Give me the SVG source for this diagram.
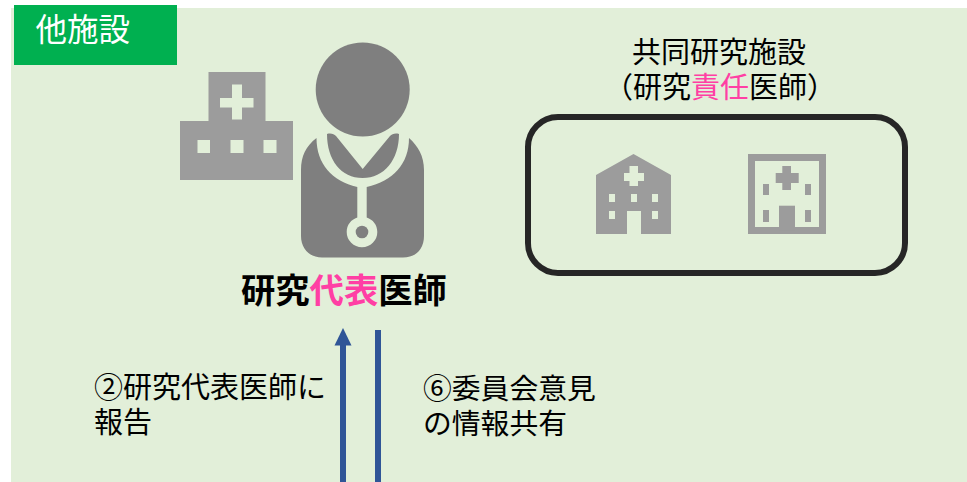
<svg xmlns="http://www.w3.org/2000/svg" width="967" height="482" viewBox="0 0 967 482">
<style>
text{font-family:"Noto Sans CJK JP","Noto Sans",sans-serif;font-size:29px;fill:#000}
.pk{fill:#ff3fa4}
.i1{fill:#9c9c9c}
.i2{fill:#7f7f7f}
.bg{fill:#e2efd9}
</style>
<rect class="bg" x="11" y="8" width="956" height="474"/>
<g id="tag"><rect x="14" y="5" width="163" height="60" fill="#00b050"/><text x="35.500" y="41" style="font-size:31.500px;fill:#fff">他施設</text></g>
<g id="hospital-main">
<path class="i1" d="M208.500 72H265.500V121H293V180H180V121H208.500Z"/>
<path class="bg" d="M232 84.500H242V98H253.500V107.500H242V119.500H232V107.500H220V98H232Z"/>
<rect class="bg" x="197.500" y="140" width="12.500" height="13"/><rect class="bg" x="230.500" y="140" width="13" height="13"/><rect class="bg" x="263.500" y="140" width="13" height="13"/>
</g>
<g id="doctor">
<circle class="i2" cx="362.700" cy="89.500" r="47"/>
<path class="i2" d="M316.500 138C306 146 301 156 301 170V236C301 249 310 257.500 322 257.500H403C416 257.500 424 249 424 236V170C424 156 418 146 409 138C409 164 393 181 366.700 187V217.500C373 219.500 377.300 225 377.300 232A15.300 15.300 0 1 1 346.700 232C346.700 225 351 219.500 357.300 217.500V187C332 181 316.500 164 316.500 138Z"/>
<path class="i2" d="M327 134C331 133 334 134 336 136L362.700 169L390 136C392 134 395 133 399 134C399 160 384 178 362.700 178C341 178 327 160 327 134Z"/>
<circle class="i2" cx="362" cy="232" r="6.300"/>
</g>
<g id="doctor-label"><text x="241" y="303" style="font-size:34.300px;font-weight:700">研究<tspan class="pk">代表</tspan>医師</text></g>
<g id="facility-label"><text x="632" y="63">共同研究施設</text><text x="604" y="98">（研究<tspan class="pk">責任</tspan>医師）</text></g>
<g id="facilities">
<rect x="528" y="117" width="377" height="156" rx="30" fill="none" stroke="#262626" stroke-width="6"/>
<path class="i1" d="M596 175L633.500 154L671 175V234H641V211H627V234H596Z"/>
<path class="bg" d="M629.500 166H638V173H644V181H638V186H629.500V181H624V173H629.500Z"/>
<g class="bg"><rect x="609" y="194" width="6" height="8"/><rect x="631" y="194" width="6" height="8"/><rect x="652" y="194" width="6" height="8"/><rect x="609" y="211" width="6" height="8"/><rect x="652" y="211" width="6" height="8"/></g>
<rect x="751.500" y="157.500" width="71" height="73" fill="none" stroke="#9c9c9c" stroke-width="7"/>
<path class="i1" d="M782.300 166H791V173H798.700V183H791V190H782.300V183H775.700V173H782.300Z"/>
<g class="i1"><rect x="763" y="184" width="6" height="11"/><rect x="805" y="184" width="6" height="11"/><rect x="763" y="210" width="6" height="12"/><rect x="805" y="210" width="6" height="12"/><rect x="779" y="205.700" width="16" height="25"/></g>
</g>
<g id="connectors">
<path d="M343 482V344" stroke="#2f5597" stroke-width="6" fill="none"/>
<path d="M343 328L351.500 345.500H334.500Z" fill="#2f5597"/>
<path d="M378 482V330" stroke="#2f5597" stroke-width="6" fill="none"/>
</g>
<g id="label-report"><text x="94" y="398">②研究代表医師に</text><text x="94" y="433">報告</text></g>
<g id="label-share"><text x="423" y="399" style="font-size:28.800px">⑥委員会意見</text><text x="423" y="434" style="font-size:28.800px">の情報共有</text></g>
</svg>
